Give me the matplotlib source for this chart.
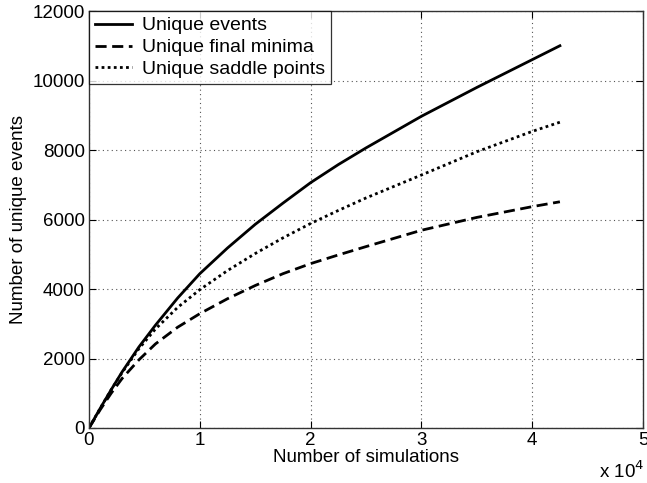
import matplotlib
matplotlib.use("Agg")
import matplotlib.pyplot as plt

plt.rcParams['font.family'] = ['Liberation Sans', 'DejaVu Sans']

# number of simulations
x_sims = [0, 1000, 2000, 3000, 4500, 6000, 8000, 10000, 12500, 15000, 17500,
          20000, 22500, 25000, 30000, 35000, 40000, 42500]
unique_events = [0, 560, 1100, 1620, 2330, 2960, 3740, 4440, 5180, 5860, 6470,
                 7060, 7580, 8060, 8970, 9800, 10600, 11000]
unique_minima = [0, 520, 1000, 1430, 1960, 2420, 2900, 3290, 3720, 4100, 4440,
                 4730, 4980, 5220, 5690, 6060, 6370, 6510]
unique_saddles = [0, 560, 1100, 1600, 2280, 2850, 3470, 3980, 4530, 5020, 5470,
                  5885, 6260, 6620, 7280, 7950, 8535, 8800]

x_ticks = [0, 10000, 20000, 30000, 40000, 50000]
x_tick_labels = ['0', '1', '2', '3', '4', '5']
y_ticks = [0, 2000, 4000, 6000, 8000, 10000, 12000]

FS = 13.5

fig = plt.figure(figsize=(6.47, 4.83), dpi=100)
ax = fig.add_axes([89/647, 55/483, (643-89)/647, (428-11)/483])

ax.plot(x_sims, unique_events, color='black', lw=2.0, ls='-', label='Unique events')
ax.plot(x_sims, unique_minima, color='black', lw=2.0, ls=(0, (4, 2)), label='Unique final minima')
ax.plot(x_sims, unique_saddles, color='black', lw=2.0, ls=(0, (1, 1.2)), label='Unique saddle points')

ax.set_xlim(0, 50000)
ax.set_ylim(0, 12000)
ax.set_xticks(x_ticks)
ax.set_xticklabels(x_tick_labels)
ax.set_yticks(y_ticks)
ax.grid(True, ls=(0, (1, 3)), color='#555555', lw=0.8)
ax.tick_params(direction='in', top=True, right=True, length=5, labelsize=FS, pad=3,
               width=0.8)
for s in ax.spines.values():
    s.set_linewidth(1.0)
    s.set_color('#333333')

ax.set_xlabel('Number of simulations', fontsize=FS, labelpad=0)
ax.set_ylabel('Number of unique events', fontsize=FS, labelpad=4)
fig.text(622/647, 1 - 471/483, 'x 10$^{4}$', fontsize=FS, ha='center', va='center')

leg = ax.legend(loc='upper left', fontsize=14, frameon=True, fancybox=False,
                edgecolor='black', borderaxespad=0, handlelength=1.9,
                borderpad=0.3, labelspacing=0.22, handletextpad=0.55)
leg.get_frame().set_linewidth(0.9)

fig.savefig('out.png', dpi=100)
